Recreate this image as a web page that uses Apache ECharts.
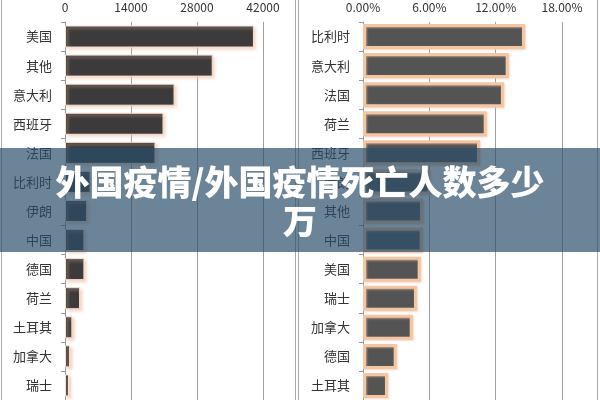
<!DOCTYPE html>
<html>
<head>
<meta charset="utf-8">
<script src="https://cdn.jsdelivr.net/npm/echarts@6/dist/echarts.min.js"></script>
<style>
html,body{margin:0;padding:0;background:#fff;}
#c{width:600px;height:400px;}
</style>
</head>
<body>
<div id="c"></div>
<script>
// Left chart: deaths
const leftCategories = ['美国','其他','意大利','西班牙','法国','比利时','伊朗','中国','德国','荷兰','土耳其','加拿大','瑞士'];
const leftValues = [40080, 31340, 23240, 20900, 19190, 5400, 4700, 4120, 4120, 3200, 1560, 1070, 850];
const leftTicks = [0, 14000, 28000, 42000];

// Right chart: death rate (%)
const rightCategories = ['比利时','意大利','法国','荷兰','西班牙','伊朗','其他','中国','美国','瑞士','加拿大','德国','土耳其'];
const rightValues = [14.65, 13.18, 12.75, 11.19, 10.58, 6.1, 5.43, 5.4, 5.22, 4.88, 4.5, 3.05, 2.26];
const rightTicks = [0, 6, 12, 18];

const titleLine1 = '外国疫情/外国疫情死亡人数多少';
const titleLine2 = '万';

const FONT = '"Noto Sans CJK SC", "Noto Sans", sans-serif';
const chart = echarts.init(document.getElementById('c'), null, {renderer: 'canvas'});

function catAxis(gridIndex, cats) {
  return {
    type: 'category', gridIndex: gridIndex, data: cats, inverse: true,
    axisLine: {show: true, lineStyle: {color: '#999', width: 1}},
    axisTick: {show: true, length: 4, lineStyle: {color: '#999'}},
    axisLabel: {color: '#333', fontSize: 13, fontFamily: FONT, margin: 13},
    splitLine: {show: false}
  };
}
function valAxis(gridIndex, ticks, fmt) {
  return {
    type: 'value', gridIndex: gridIndex, position: 'top',
    min: ticks[0], max: ticks[ticks.length - 1], interval: ticks[1] - ticks[0],
    axisLine: {show: false}, axisTick: {show: false},
    axisLabel: {color: '#333', fontSize: 12, fontFamily: FONT, margin: 9, formatter: fmt},
    splitLine: {show: true, lineStyle: {color: '#a0a0a0', width: 1}}
  };
}

const option = {
  animation: false,
  backgroundColor: '#fff',
  grid: [
    {left: 65, top: 22, width: 198, height: 379},
    {left: 363, top: 22, width: 199, height: 379}
  ],
  xAxis: [
    valAxis(0, leftTicks, v => String(v)),
    valAxis(1, rightTicks, v => v.toFixed(2) + '%')
  ],
  yAxis: [catAxis(0, leftCategories), catAxis(1, rightCategories)],
  series: [
    {
      type: 'bar', xAxisIndex: 0, yAxisIndex: 0, data: leftValues, barWidth: 22,
      itemStyle: {color: '#3c3a3a', borderColor: '#f6e0d2', borderWidth: 1,
        shadowColor: 'rgba(240,190,160,0.7)', shadowBlur: 3, shadowOffsetX: 2, shadowOffsetY: 2}
    },
    {
      type: 'bar', xAxisIndex: 1, yAxisIndex: 1, data: rightValues, barWidth: 25,
      itemStyle: {color: '#545454', borderColor: '#f3c6a3', borderWidth: 3,
        shadowColor: 'rgba(240,190,160,0.6)', shadowBlur: 2, shadowOffsetX: 1, shadowOffsetY: 1}
    }
  ],
  graphic: [
    {type: 'line', z: 50, shape: {x1: 1.5, y1: 0, x2: 1.5, y2: 400}, style: {stroke: '#aaa', lineWidth: 1}},
    {type: 'line', z: 50, shape: {x1: 295.5, y1: 0, x2: 295.5, y2: 400}, style: {stroke: '#aaa', lineWidth: 1}},
    {type: 'line', z: 50, shape: {x1: 298.5, y1: 0, x2: 298.5, y2: 400}, style: {stroke: '#aaa', lineWidth: 1}},
    {type: 'line', z: 50, shape: {x1: 597.5, y1: 0, x2: 597.5, y2: 400}, style: {stroke: '#aaa', lineWidth: 1}},
    {type: 'rect', z: 100, shape: {x: 0, y: 148, width: 600, height: 104},
      style: {fill: 'rgba(41,77,104,0.69)'}},
    {type: 'text', z: 101, x: 300, y: 182,
      style: {text: titleLine1, fill: '#fff', font: '900 34px ' + FONT, align: 'center', verticalAlign: 'middle',
        shadowColor: 'rgba(0,0,0,0.25)', shadowBlur: 2}},
    {type: 'text', z: 101, x: 300, y: 221,
      style: {text: titleLine2, fill: '#fff', font: '900 34px ' + FONT, align: 'center', verticalAlign: 'middle',
        shadowColor: 'rgba(0,0,0,0.25)', shadowBlur: 2}}
  ]
};
chart.setOption(option);
</script>
</body>
</html>
